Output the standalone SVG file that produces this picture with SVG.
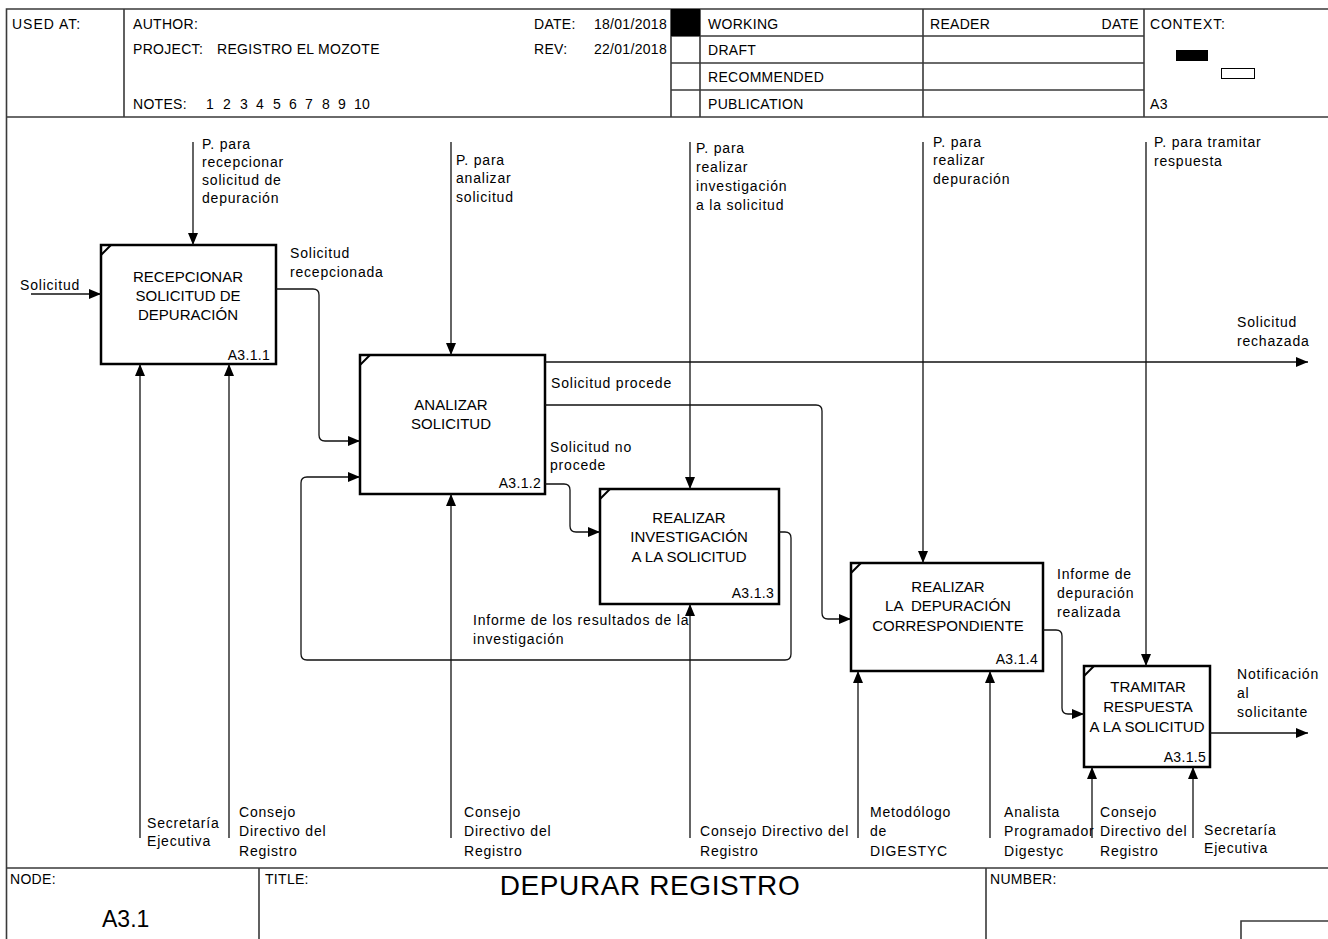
<svg xmlns="http://www.w3.org/2000/svg" width="1328" height="939" viewBox="0 0 1328 939">
  <defs>
    <marker id="arrow" markerWidth="12" markerHeight="10" refX="12" refY="5" orient="auto" markerUnits="userSpaceOnUse">
      <path d="M0,0 L12,5 L0,10 Z" fill="#000"/>
    </marker>
    <style>
      text { font-family: "Liberation Sans", Arial, sans-serif; fill: #000; }
      .hdr { font-size: 14px; letter-spacing: 0.3px; }
      .lbl { font-size: 14px; letter-spacing: 0.8px; }
      .box { fill: #fff; stroke: #000; stroke-width: 2.5; }
      .tick { stroke: #000; stroke-width: 2; }
      .btxt { font-size: 15px; text-anchor: middle; }
      .num { font-size: 14px; text-anchor: end; letter-spacing: 0.3px; }
      .frame { stroke: #3a3a3a; stroke-width: 1.6; fill: none; }
      .conn { fill: none; stroke: #111; stroke-width: 1.3; marker-end: url(#arrow); }
    </style>
  </defs>

  <rect x="0" y="0" width="1328" height="939" fill="#fff"/>

  <!-- IDEF0 sheet frame: header block -->
  <g id="header">
    <path class="frame" d="M6.5,939 V9 H1328 M6.5,117 H1328 M124,9 V117 M671,9 V117 M700,9 V117 M923,9 V117 M1144,9 V117 M671,36 H1144 M671,63 H1144 M671,90 H1144"/>
    <rect x="671" y="9" width="29" height="27" fill="#000"/>
    <text class="hdr" x="12" y="29" style="letter-spacing:1px">USED AT:</text>
    <text class="hdr" x="133" y="29">AUTHOR:</text>
    <text class="hdr" x="133" y="54">PROJECT:</text>
    <text class="hdr" x="217" y="54">REGISTRO EL MOZOTE</text>
    <text class="hdr" y="109"><tspan x="133">NOTES:</tspan><tspan x="206">1</tspan><tspan x="223">2</tspan><tspan x="240">3</tspan><tspan x="256">4</tspan><tspan x="273">5</tspan><tspan x="289">6</tspan><tspan x="305">7</tspan><tspan x="322">8</tspan><tspan x="338">9</tspan><tspan x="354">10</tspan></text>
    <text class="hdr" x="534" y="29">DATE:</text>
    <text class="hdr" x="667" y="29" text-anchor="end">18/01/2018</text>
    <text class="hdr" x="534" y="54">REV:</text>
    <text class="hdr" x="667" y="54" text-anchor="end">22/01/2018</text>
    <text class="hdr" x="708" y="29">WORKING</text>
    <text class="hdr" x="708" y="55">DRAFT</text>
    <text class="hdr" x="708" y="82">RECOMMENDED</text>
    <text class="hdr" x="708" y="109">PUBLICATION</text>
    <text class="hdr" x="930" y="29">READER</text>
    <text class="hdr" x="1139" y="29" text-anchor="end">DATE</text>
    <text class="hdr" x="1150" y="29" style="letter-spacing:0.8px">CONTEXT:</text>
    <rect x="1176" y="50" width="32" height="11" fill="#000"/>
    <rect x="1221.5" y="68.5" width="33" height="10" fill="#fff" stroke="#000" stroke-width="1"/>
    <text class="hdr" x="1150" y="109">A3</text>
  </g>

  <!-- IDEF0 sheet frame: footer block -->
  <g id="footer">
    <path class="frame" d="M6.5,868 H1328 M259,868 V939 M986,868 V939 M1241,939 V921 H1328"/>
    <text class="hdr" x="10" y="884">NODE:</text>
    <text class="hdr" x="265" y="884">TITLE:</text>
    <text class="hdr" x="990" y="884">NUMBER:</text>
    <text x="102" y="927" style="font-size:23px">A3.1</text>
    <text x="650" y="895" text-anchor="middle" style="font-size:28px;letter-spacing:0.6px">DEPURAR REGISTRO</text>
  </g>

  <!-- Activity boxes -->
  <g id="A311">
    <rect class="box" x="101" y="245" width="175" height="119"/>
    <line class="tick" x1="101" y1="255" x2="111" y2="245"/>
    <text class="btxt" x="188" y="282">RECEPCIONAR</text>
    <text class="btxt" x="188" y="301">SOLICITUD DE</text>
    <text class="btxt" x="188" y="320">DEPURACIÓN</text>
    <text class="num" x="270" y="360">A3.1.1</text>
  </g>

  <g id="A312">
    <rect class="box" x="360" y="355" width="185" height="139"/>
    <line class="tick" x1="360" y1="365" x2="370" y2="355"/>
    <text class="btxt" x="451" y="410">ANALIZAR</text>
    <text class="btxt" x="451" y="429">SOLICITUD</text>
    <text class="num" x="541" y="488">A3.1.2</text>
  </g>

  <g id="A313">
    <rect class="box" x="600" y="489" width="179" height="115"/>
    <line class="tick" x1="600" y1="499" x2="610" y2="489"/>
    <text class="btxt" x="689" y="523">REALIZAR</text>
    <text class="btxt" x="689" y="542">INVESTIGACIÓN</text>
    <text class="btxt" x="689" y="562">A LA SOLICITUD</text>
    <text class="num" x="774" y="598">A3.1.3</text>
  </g>

  <g id="A314">
    <rect class="box" x="851" y="563" width="192" height="108"/>
    <line class="tick" x1="851" y1="573" x2="861" y2="563"/>
    <text class="btxt" x="948" y="592">REALIZAR</text>
    <text class="btxt" x="948" y="611" style="white-space:pre">LA  DEPURACIÓN</text>
    <text class="btxt" x="948" y="631">CORRESPONDIENTE</text>
    <text class="num" x="1038" y="664">A3.1.4</text>
  </g>

  <g id="A315">
    <rect class="box" x="1084" y="666" width="126" height="101"/>
    <line class="tick" x1="1084" y1="676" x2="1094" y2="666"/>
    <text class="btxt" x="1148" y="692">TRAMITAR</text>
    <text class="btxt" x="1148" y="712">RESPUESTA</text>
    <text class="btxt" x="1147" y="732">A LA SOLICITUD</text>
    <text class="num" x="1206" y="762">A3.1.5</text>
  </g>

  <!-- Arrows: inputs, controls, outputs, mechanisms -->
  <g id="connectors">
    <path class="conn" d="M31,294 H101"/>
    <path class="conn" d="M193,142 V245"/>
    <path class="conn" d="M276,289 H313 Q319,289 319,295 V435 Q319,441 325,441 H360"/>
    <path class="conn" d="M451,142 V355"/>
    <path class="conn" d="M690,142 V489"/>
    <path class="conn" d="M923,142 V563"/>
    <path class="conn" d="M1146,142 V666"/>
    <path class="conn" d="M545,362 H1308"/>
    <path class="conn" d="M545,405 H816 Q822,405 822,411 V613 Q822,619 828,619 H851"/>
    <path class="conn" d="M545,484 H564 Q570,484 570,490 V526 Q570,532 576,532 H600"/>
    <path class="conn" d="M779,532 H785 Q791,532 791,538 V654 Q791,660 785,660 H307 Q301,660 301,654 V483 Q301,477 307,477 H360"/>
    <path class="conn" d="M1043,630 H1056 Q1062,630 1062,636 V708 Q1062,714 1068,714 H1084"/>
    <path class="conn" d="M1210,733 H1308"/>
    <path class="conn" d="M140,838 V364"/>
    <path class="conn" d="M229,838 V364"/>
    <path class="conn" d="M451,838 V494"/>
    <path class="conn" d="M690,838 V604"/>
    <path class="conn" d="M858,838 V671"/>
    <path class="conn" d="M990,838 V671"/>
    <path class="conn" d="M1092,838 V767"/>
    <path class="conn" d="M1193,838 V767"/>
  </g>

  <!-- Arrow labels -->
  <g id="labels">
    <text class="lbl" x="20" y="290">Solicitud</text>
    <text class="lbl"><tspan x="202" y="149">P. para</tspan><tspan x="202" y="167">recepcionar</tspan><tspan x="202" y="185">solicitud de</tspan><tspan x="202" y="203">depuración</tspan></text>
    <text class="lbl"><tspan x="290" y="258">Solicitud</tspan><tspan x="290" y="277">recepcionada</tspan></text>
    <text class="lbl"><tspan x="456" y="165">P. para</tspan><tspan x="456" y="183">analizar</tspan><tspan x="456" y="202">solicitud</tspan></text>
    <text class="lbl"><tspan x="696" y="153">P. para</tspan><tspan x="696" y="172">realizar</tspan><tspan x="696" y="191">investigación</tspan><tspan x="696" y="210">a la solicitud</tspan></text>
    <text class="lbl"><tspan x="933" y="147">P. para</tspan><tspan x="933" y="165">realizar</tspan><tspan x="933" y="184">depuración</tspan></text>
    <text class="lbl"><tspan x="1154" y="147">P. para tramitar</tspan><tspan x="1154" y="166">respuesta</tspan></text>
    <text class="lbl"><tspan x="1237" y="327">Solicitud</tspan><tspan x="1237" y="346">rechazada</tspan></text>
    <text class="lbl" x="551" y="388">Solicitud procede</text>
    <text class="lbl"><tspan x="550" y="452">Solicitud no</tspan><tspan x="550" y="470">procede</tspan></text>
    <text class="lbl"><tspan x="473" y="625">Informe de los resultados de la</tspan><tspan x="473" y="644">investigación</tspan></text>
    <text class="lbl"><tspan x="1057" y="579">Informe de</tspan><tspan x="1057" y="598">depuración</tspan><tspan x="1057" y="617">realizada</tspan></text>
    <text class="lbl"><tspan x="1237" y="679">Notificación</tspan><tspan x="1237" y="698">al</tspan><tspan x="1237" y="717">solicitante</tspan></text>
    <text class="lbl"><tspan x="147" y="828">Secretaría</tspan><tspan x="147" y="846">Ejecutiva</tspan></text>
    <text class="lbl"><tspan x="239" y="817">Consejo</tspan><tspan x="239" y="836">Directivo del</tspan><tspan x="239" y="856">Registro</tspan></text>
    <text class="lbl"><tspan x="464" y="817">Consejo</tspan><tspan x="464" y="836">Directivo del</tspan><tspan x="464" y="856">Registro</tspan></text>
    <text class="lbl"><tspan x="700" y="836">Consejo Directivo del</tspan><tspan x="700" y="856">Registro</tspan></text>
    <text class="lbl"><tspan x="870" y="817">Metodólogo</tspan><tspan x="870" y="836">de</tspan><tspan x="870" y="856">DIGESTYC</tspan></text>
    <text class="lbl"><tspan x="1004" y="817">Analista</tspan><tspan x="1004" y="836">Programador</tspan><tspan x="1004" y="856">Digestyc</tspan></text>
    <text class="lbl"><tspan x="1100" y="817">Consejo</tspan><tspan x="1100" y="836">Directivo del</tspan><tspan x="1100" y="856">Registro</tspan></text>
    <text class="lbl"><tspan x="1204" y="835">Secretaría</tspan><tspan x="1204" y="853">Ejecutiva</tspan></text>
  </g>
</svg>
